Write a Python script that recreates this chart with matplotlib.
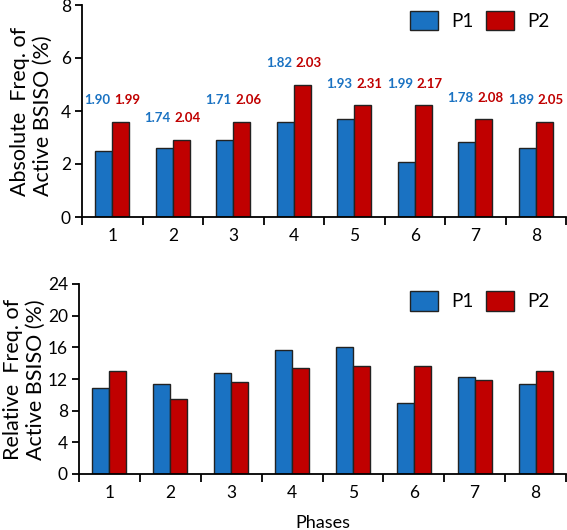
import matplotlib
matplotlib.use("Agg")
import matplotlib.pyplot as plt
import numpy as np

phases = ["1", "2", "3", "4", "5", "6", "7", "8"]
abs_p1 = [2.5, 2.6, 2.9, 3.6, 3.7, 2.07, 2.82, 2.6]
abs_p2 = [3.6, 2.92, 3.6, 5.0, 4.23, 4.23, 3.7, 3.6]
lab_p1 = ["1.90", "1.74", "1.71", "1.82", "1.93", "1.99", "1.78", "1.89"]
lab_p2 = ["1.99", "2.04", "2.06", "2.03", "2.31", "2.17", "2.08", "2.05"]
rel_p1 = [10.9, 11.4, 12.8, 15.7, 16.1, 9.0, 12.3, 11.4]
rel_p2 = [13.0, 9.5, 11.6, 13.4, 13.7, 13.7, 11.9, 13.0]

BLUE = "#1a72c2"
RED = "#c00000"
plt.rcParams['font.family'] = ['Lato', 'DejaVu Sans']

fig = plt.figure(figsize=(5.67, 5.30), dpi=100)
ax1 = fig.add_axes([82/567, 1-217/530, 484/567, 212/530])
ax2 = fig.add_axes([79/567, 1-474/530, 487/567, 190/530])

x = np.arange(1, len(phases) + 1)
w = 0.28

def style(ax, ymax, step):
    for s in ["top", "right"]:
        ax.spines[s].set_visible(False)
    ax.spines["left"].set_linewidth(1.3)
    ax.spines["bottom"].set_linewidth(1.3)
    ax.set_xlim(0.5, len(phases) + 0.5)
    ax.set_ylim(0, ymax)
    ax.set_yticks(np.arange(0, ymax + 0.01, step))
    ax.set_xticks(x)
    ax.set_xticklabels(phases)
    ax.set_xticks(np.arange(0.5, len(phases) + 1, 1), minor=True)
    ax.tick_params(axis="x", which="major", length=0, labelsize=12.5, pad=8)
    ax.tick_params(axis="x", which="minor", length=6, width=1.3, direction="out")
    ax.tick_params(axis="y", length=5, width=1.3, labelsize=12.5, pad=3)

for ax, d1, d2 in [(ax1, abs_p1, abs_p2), (ax2, rel_p1, rel_p2)]:
    ax.bar(x - w/2, d1, w, color=BLUE, edgecolor="#222222", linewidth=1.0, label="P1")
    ax.bar(x + w/2, d2, w, color=RED, edgecolor="#222222", linewidth=1.0, label="P2")
    ax.legend(loc="upper right", ncol=2, frameon=False, fontsize=13.5,
              handlelength=1.5, handleheight=1.2, columnspacing=0.65,
              handletextpad=0.7, bbox_to_anchor=(1.0, 1.05))

style(ax1, 8, 2)
style(ax2, 24, 4)

for i in range(len(phases)):
    ytxt = max(abs_p1[i], abs_p2[i]) + 0.8
    ax1.text(x[i] - 0.03, ytxt, lab_p1[i], color=BLUE, fontsize=9.5, fontweight="bold",
             ha="right", va="center")
    ax1.text(x[i] + 0.03, ytxt, lab_p2[i], color=RED, fontsize=9.5, fontweight="bold",
             ha="left", va="center")

ax1.set_ylabel("Absolute  Freq. of\nActive BSISO (%)", fontsize=15.5, linespacing=1.2,
               multialignment="left")
ax2.set_ylabel("Relative  Freq. of\nActive BSISO (%)", fontsize=15.5, linespacing=1.2,
               multialignment="left")
ax1.yaxis.set_label_coords(-0.060, 0.5)
ax2.yaxis.set_label_coords(-0.068, 0.5)
ax2.set_xlabel("Phases", fontsize=13, labelpad=10)

fig.savefig("out.png", dpi=100)
